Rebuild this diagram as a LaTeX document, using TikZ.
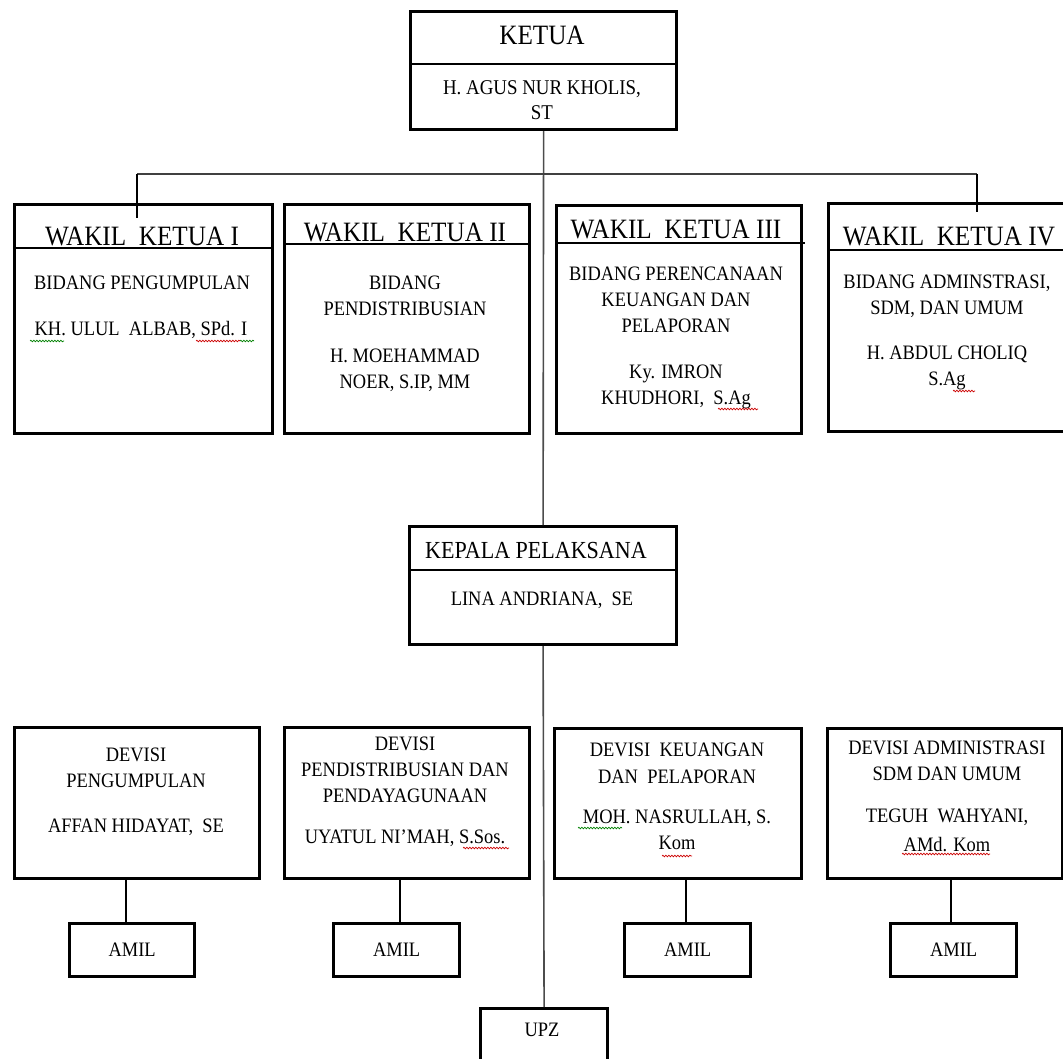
\documentclass[tikz,border=0pt]{standalone}
\usepackage{fontspec}
\setmainfont[FakeStretch=0.9]{Liberation Serif}
\usetikzlibrary{decorations.pathmorphing}
\begin{document}
\begin{tikzpicture}[x=1pt,y=-1pt,
  box/.style={draw, line width=3.2pt, inner sep=0pt, anchor=north west},
  rule/.style={line width=1.5pt},
  link/.style={line width=1.5pt},
  trunk/.style={line width=1.6pt, black!70},
  txt/.style={inner sep=0pt, align=center, font=\fontsize{20.5}{26}\selectfont},
  head/.style={inner sep=0pt, anchor=base, font=\fontsize{28}{30}\selectfont},
  wavyred/.style={red!80!black, line width=0.7pt, decorate, decoration={snake, segment length=3pt, amplitude=0.8pt}},
  wavygreen/.style={green!50!black, line width=0.7pt, decorate, decoration={snake, segment length=3pt, amplitude=0.8pt}}
]
\useasboundingbox (0,0) rectangle (1063,1059);

% ---- boxes ----
\node[box, minimum width=266pt, minimum height=118pt] (ketua) at (409,10) {};
\node[box, minimum width=258pt, minimum height=229pt] (wk1) at (13,203) {};
\node[box, minimum width=245pt, minimum height=229pt] (wk2) at (283,203) {};
\node[box, minimum width=245pt, minimum height=228pt] (wk3) at (555,204) {};
\node[box, minimum width=245pt, minimum height=228pt] (wk4) at (827,202) {};
\node[box, minimum width=267pt, minimum height=118pt] (kepala) at (408,525) {};
\node[box, minimum width=245pt, minimum height=151pt] (d1) at (13,726) {};
\node[box, minimum width=245pt, minimum height=151pt] (d2) at (283,726) {};
\node[box, minimum width=247pt, minimum height=150pt] (d3) at (553,727) {};
\node[box, minimum width=235pt, minimum height=150pt] (d4) at (826,727) {};
\node[box, minimum width=125pt, minimum height=53pt] (a1) at (68,922) {};
\node[box, minimum width=126pt, minimum height=53pt] (a2) at (332,922) {};
\node[box, minimum width=126pt, minimum height=53pt] (a3) at (623,922) {};
\node[box, minimum width=126pt, minimum height=53pt] (a4) at (889,922) {};
\node[box, minimum width=127pt, minimum height=70pt] (upz) at (479,1007) {};

% ---- dividers ----
\draw[rule] (ketua.west |- 0,64) -- (ketua.east |- 0,64);
\draw[rule] (wk1.west |- 0,248) -- (wk1.east |- 0,248);
\draw[rule] (wk2.west |- 0,244) -- (wk2.east |- 0,244);
\draw[rule] (wk3.west |- 0,243) -- (805,243);
\draw[rule] (wk4.west |- 0,250) -- (1063,250);
\draw[rule] (kepala.west |- 0,570) -- (kepala.east |- 0,570);

% ---- connectors ----
\draw[trunk] (ketua.south) -- (kepala.north);
\draw[trunk] (kepala.south) -- (upz.north);
\coordinate (hl) at (137,174);
\coordinate (hr) at (977,174);
\coordinate (hld) at (137,218);
\coordinate (hrd) at (977,212);
\draw[link, black!75] (hl) -- (hr);
\draw[link] (hl) -- (hld);
\draw[link] (hr) -- (hrd);
\coordinate (c1) at (126,0);
\coordinate (c2) at (400,0);
\coordinate (c3) at (686,0);
\coordinate (c4) at (951,0);
\draw[link] (d1.south -| c1) -- (a1.north -| c1);
\draw[link] (d2.south -| c2) -- (a2.north -| c2);
\draw[link] (d3.south -| c3) -- (a3.north -| c3);
\draw[link] (d4.south -| c4) -- (a4.north -| c4);

% ---- texts ----
\node[head] (tketua) at (542,45) {KETUA};
\node[txt, font=\fontsize{21}{25}\selectfont] (nketua) at (542,100) {H. AGUS NUR KHOLIS,\\ST};

\node[head] (th1) at (142,246) {WAKIL~ KETUA I};
\node[txt] (b1) at (142,283) {BIDANG PENGUMPULAN};
\node[txt] (n1) at (141,330) {KH. ULUL~ ALBAB, SPd. I};

\node[head] (th2) at (405,242) {WAKIL~ KETUA II};
\node[txt] (b2) at (405,296) {BIDANG\\PENDISTRIBUSIAN};
\node[txt] (n2) at (405,370) {H. MOEHAMMAD\\NOER, S.IP, MM};

\node[head] (th3) at (676,239) {WAKIL~ KETUA III};
\node[txt] (b3) at (676,300) {BIDANG PERENCANAAN\\KEUANGAN DAN\\PELAPORAN};
\node[txt] (n3) at (676,387) {Ky. IMRON\\KHUDHORI,~ S.Ag};

\node[head] (th4) at (949,246) {WAKIL~ KETUA IV};
\node[txt] (b4) at (947,296) {BIDANG ADMINSTRASI,\\SDM, DAN UMUM};
\node[txt] (n4) at (947,368) {H. ABDUL CHOLIQ\\S.Ag};

\node[inner sep=0pt, anchor=base, font=\fontsize{24.5}{26}\selectfont] (tkepala) at (536,558) {KEPALA PELAKSANA};
\node[txt] (nkepala) at (542,600) {LINA ANDRIANA,~ SE};

\node[txt] (e1) at (136,768) {DEVISI\\PENGUMPULAN};
\node[txt] (m1) at (136,827) {AFFAN HIDAYAT,~ SE};

\node[txt] (e2) at (405,770) {DEVISI\\PENDISTRIBUSIAN DAN\\PENDAYAGUNAAN};
\node[txt] (m2) at (405,838) {UYATUL NI'MAH, S.Sos.};

\node[txt, font=\fontsize{20.5}{27}\selectfont] (e3) at (677,763) {DEVISI~ KEUANGAN\\DAN~ PELAPORAN};
\node[txt] (m3) at (677,830) {MOH. NASRULLAH, S.\\Kom};

\node[txt] (e4) at (947,761) {DEVISI ADMINISTRASI\\SDM DAN UMUM};
\node[txt, font=\fontsize{20.5}{29}\selectfont] (m4) at (947,830) {TEGUH~ WAHYANI,\\AMd. Kom};

\node[txt] (ta1) at (a1.center) {AMIL};
\node[txt] (ta2) at (a2.center) {AMIL};
\node[txt] (ta3) at (a3.center) {AMIL};
\node[txt] (ta4) at (a4.center) {AMIL};
\node[txt] (tupz) at (542,1030) {UPZ};

% ---- spell-check underlines ----
\draw[wavygreen] (30,341) -- (64,341);
\draw[wavyred] (196,341) -- (240,341);
\draw[wavygreen] (240,341) -- (254,341);
\draw[wavyred] (718,409) -- (758,409);
\draw[wavyred] (953,391) -- (975,391);
\draw[wavyred] (463,848) -- (509,848);
\draw[wavygreen] (578,828) -- (622,828);
\draw[wavyred] (662,856) -- (692,856);
\draw[wavyred] (902,854) -- (990,854);
\end{tikzpicture}
\end{document}
